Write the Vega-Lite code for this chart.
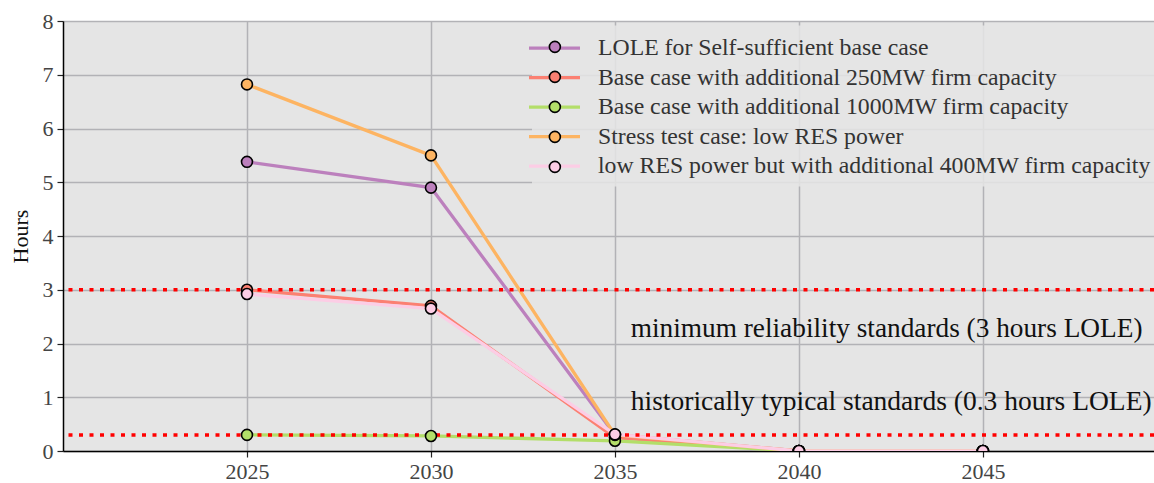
{
  "$schema": "https://vega.github.io/schema/vega-lite/v6.json",
  "width": 1091,
  "height": 430,
  "autosize": {"type": "none"},
  "padding": {"left": 63, "top": 21, "right": 0, "bottom": 32},
  "background": "white",
  "config": {
    "font": "Liberation Serif",
    "view": {"fill": "#e5e5e5", "stroke": null},
    "axis": {
      "labelFont": "Liberation Serif",
      "titleFont": "Liberation Serif",
      "labelFontSize": 22,
      "labelColor": "#444444",
      "titleColor": "#111111",
      "titleFontSize": 22,
      "titleFontWeight": "normal",
      "gridColor": "#b2b2b6",
      "gridWidth": 1.5,
      "domainColor": "#000000",
      "domainWidth": 1.5,
      "tickColor": "#222222",
      "tickSize": 6,
      "tickWidth": 1.2
    }
  },
  "datasets": {
    "lole": [
      {"series": "LOLE for Self-sufficient base case", "year": 2025, "hours": 5.38},
      {"series": "LOLE for Self-sufficient base case", "year": 2030, "hours": 4.9},
      {"series": "LOLE for Self-sufficient base case", "year": 2035, "hours": 0.3},
      {"series": "LOLE for Self-sufficient base case", "year": 2040, "hours": 0},
      {"series": "LOLE for Self-sufficient base case", "year": 2045, "hours": 0},
      {"series": "Base case with additional 250MW firm capacity", "year": 2025, "hours": 3.0},
      {"series": "Base case with additional 250MW firm capacity", "year": 2030, "hours": 2.7},
      {"series": "Base case with additional 250MW firm capacity", "year": 2035, "hours": 0.25},
      {"series": "Base case with additional 250MW firm capacity", "year": 2040, "hours": 0},
      {"series": "Base case with additional 250MW firm capacity", "year": 2045, "hours": 0},
      {"series": "Base case with additional 1000MW firm capacity", "year": 2025, "hours": 0.3},
      {"series": "Base case with additional 1000MW firm capacity", "year": 2030, "hours": 0.28},
      {"series": "Base case with additional 1000MW firm capacity", "year": 2035, "hours": 0.19},
      {"series": "Base case with additional 1000MW firm capacity", "year": 2040, "hours": 0},
      {"series": "Base case with additional 1000MW firm capacity", "year": 2045, "hours": 0},
      {"series": "Stress test case: low RES power", "year": 2025, "hours": 6.82},
      {"series": "Stress test case: low RES power", "year": 2030, "hours": 5.5},
      {"series": "Stress test case: low RES power", "year": 2035, "hours": 0.3},
      {"series": "Stress test case: low RES power", "year": 2040, "hours": 0},
      {"series": "Stress test case: low RES power", "year": 2045, "hours": 0},
      {"series": "low RES power but with additional 400MW firm capacity", "year": 2025, "hours": 2.92},
      {"series": "low RES power but with additional 400MW firm capacity", "year": 2030, "hours": 2.65},
      {"series": "low RES power but with additional 400MW firm capacity", "year": 2035, "hours": 0.31},
      {"series": "low RES power but with additional 400MW firm capacity", "year": 2040, "hours": 0},
      {"series": "low RES power but with additional 400MW firm capacity", "year": 2045, "hours": 0}
    ],
    "standards": [
      {"level": 3.0, "note": "minimum reliability standards (3 hours LOLE)"},
      {"level": 0.3, "note": "historically typical standards (0.3 hours LOLE)"}
    ]
  },
  "layer": [
    {
      "data": {"name": "lole"},
      "mark": {"type": "line", "strokeWidth": 3.3, "clip": true},
      "encoding": {
        "x": {
          "field": "year",
          "type": "quantitative",
          "title": null,
          "scale": {"domain": [2020, 2049.65], "nice": false, "zero": false},
          "axis": {"values": [2025, 2030, 2035, 2040, 2045], "format": "d", "labelPadding": 4}
        },
        "y": {
          "field": "hours",
          "type": "quantitative",
          "title": "Hours",
          "scale": {"domain": [0, 8], "nice": false},
          "axis": {"values": [0, 1, 2, 3, 4, 5, 6, 7, 8], "labelPadding": 4, "titlePadding": 10}
        },
        "color": {
          "field": "series",
          "type": "nominal",
          "scale": {
            "domain": [
              "LOLE for Self-sufficient base case",
              "Base case with additional 250MW firm capacity",
              "Base case with additional 1000MW firm capacity",
              "Stress test case: low RES power",
              "low RES power but with additional 400MW firm capacity"
            ],
            "range": ["#bc80bd", "#fb8072", "#b3de69", "#fdb462", "#fccde5"]
          },
          "legend": {
            "title": null,
            "orient": "none",
            "legendX": 469,
            "legendY": 4.6,
            "padding": 8,
            "fillColor": "rgba(229,229,229,0.85)",
            "symbolType": "M-2,0H2",
            "symbolSize": 650,
            "symbolStrokeWidth": 3.3,
            "labelFont": "Liberation Serif",
            "labelFontSize": 23.75,
            "labelColor": "#333333",
            "labelOffset": 29,
            "labelLimit": 700,
            "rowPadding": 2.5
          }
        }
      }
    },
    {
      "data": {"name": "standards"},
      "mark": {"type": "rule", "color": "#ff0000", "strokeWidth": 3.5, "strokeDash": [4, 6.5]},
      "encoding": {"y": {"field": "level", "type": "quantitative"}}
    },
    {
      "data": {"name": "lole"},
      "mark": {"type": "point", "filled": true, "shape": "circle", "size": 120, "stroke": "#000000", "strokeWidth": 1.6, "opacity": 1, "clip": true},
      "encoding": {
        "x": {"field": "year", "type": "quantitative"},
        "y": {"field": "hours", "type": "quantitative"},
        "fill": {
          "field": "series",
          "type": "nominal",
          "sort": null,
          "scale": {"range": ["#bc80bd", "#fb8072", "#b3de69", "#fdb462", "#fccde5"]},
          "legend": {
            "title": null,
            "orient": "none",
            "legendX": 480,
            "legendY": 14,
            "padding": 0,
            "symbolType": "circle",
            "symbolSize": 120,
            "symbolStrokeColor": "#000000",
            "symbolStrokeWidth": 1.6,
            "symbolOpacity": 1,
            "labelFont": "Liberation Serif",
            "labelFontSize": 23.75,
            "labelExpr": "''",
            "labelOffset": 18,
            "labelLimit": 700,
            "rowPadding": 5
          }
        }
      }
    },
    {
      "data": {"name": "standards"},
      "transform": [{"filter": "datum.level == 3"}],
      "mark": {"type": "text", "align": "left", "baseline": "alphabetic", "font": "Liberation Serif", "fontSize": 27.3, "color": "#111111"},
      "encoding": {"x": {"datum": 2035.43}, "y": {"datum": 2.12}, "text": {"field": "note"}}
    },
    {
      "data": {"name": "standards"},
      "transform": [{"filter": "datum.level == 0.3"}],
      "mark": {"type": "text", "align": "left", "baseline": "alphabetic", "font": "Liberation Serif", "fontSize": 27.5, "color": "#111111"},
      "encoding": {"x": {"datum": 2035.43}, "y": {"datum": 0.76}, "text": {"field": "note"}}
    }
  ]
}
